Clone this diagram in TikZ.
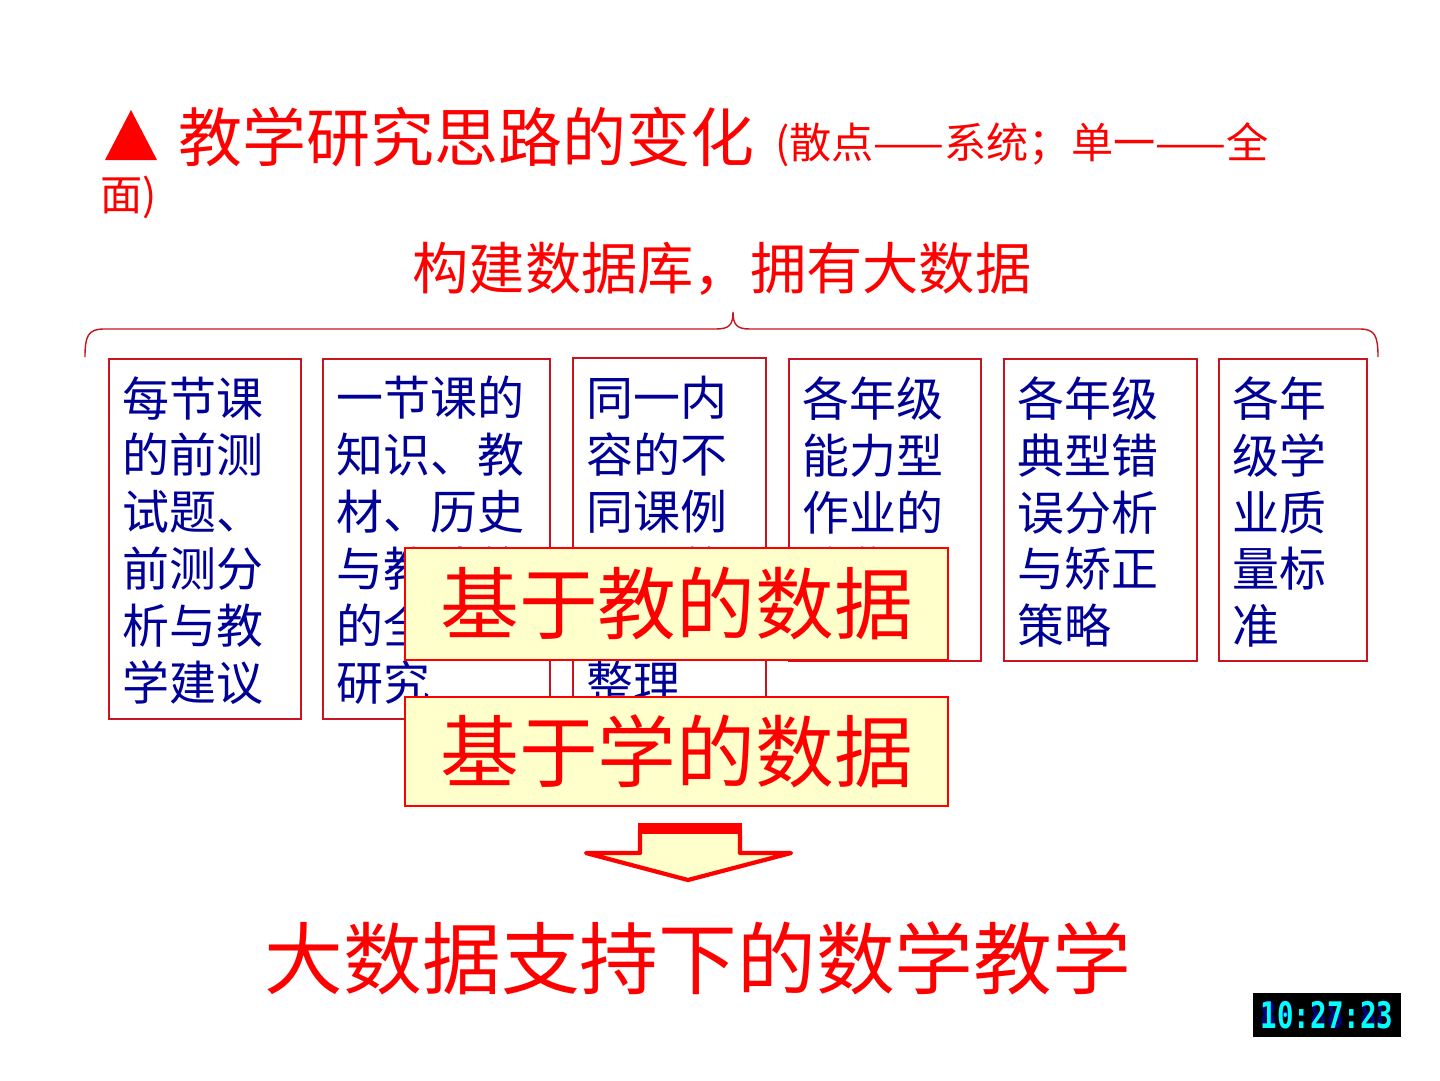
\documentclass[tikz,border=0pt]{standalone}
\usepackage{fontspec}
\setmainfont{Noto Sans CJK SC}
\newfontfamily\clockfont{DejaVu Sans Mono}

\definecolor{titlered}{RGB}{255,0,0}
\definecolor{boxred}{RGB}{200,20,30}
\definecolor{textblue}{RGB}{0,0,150}
\definecolor{paleyellow}{RGB}{255,255,204}
\definecolor{ghostblue}{RGB}{0,0,130}
\definecolor{clockcyan}{RGB}{0,255,255}

\tikzset{
  databox/.style={draw=boxred, line width=1.2pt, fill=white, anchor=north west, inner sep=0pt},
  datatext/.style={anchor=north west, inner sep=0pt, align=left, text=textblue,
    font=\fontsize{33.4}{40.5}\selectfont},
  tagbox/.style={draw=titlered, line width=1.5pt, fill=paleyellow, text=titlered,
    font=\fontsize{56}{60}\selectfont, minimum width=13.575cm, inner sep=0pt},
  redtext/.style={inner sep=0pt, text=titlered}
}

\begin{document}
\begin{tikzpicture}[x=0.025cm, y=-0.025cm]
\useasboundingbox[fill=white] (0,0) rectangle (1440,1080);

% Titre
\fill[titlered] (105,160) -- (131,110) -- (157,160) -- cycle;
\node[redtext, anchor=base west, font=\fontsize{45.5}{54}\selectfont] (title) at (178,161) {教学研究思路的变化};
\node[redtext, anchor=base west, font=\fontsize{30}{36}\selectfont] (note) at (775,158) {(散点——系统；单一——全};
\node[redtext, anchor=base west, font=\fontsize{30}{36}\selectfont] (note2) at (100,210) {面)};

\node[redtext, anchor=base, font=\fontsize{40}{48}\selectfont] (bigdata) at (722,289) {构建数据库，拥有大数据};

% Accolade
\draw[boxred, line width=1pt] (85,357) .. controls (85,336) and (88,329) .. (104,329) -- (716,329)
  .. controls (729,329) and (733,325) .. (733,312)
  .. controls (733,325) and (737,329) .. (750,329) -- (1360,329)
  .. controls (1375,329) and (1378,336) .. (1378,357);

% Cases de données
\foreach \n/\x/\y/\w/\h/\txt in {
  1/108/358/192/360/每节课\\的前测\\试题、\\前测分\\析与教\\学建议,
  2/322/358/227/360/一节课的\\知识、教\\材、历史\\与教法的\\的全面\\研究,
  3/572/357/193/361/同一内\\容的不\\同课例\\研讨的\\收集与\\整理,
  4/788/358/192/302/各年级\\能力型\\作业的\\收集,
  5/1003/358/193/302/各年级\\典型错\\误分析\\与矫正\\策略,
  6/1218/358/148/302/各年\\级学\\业质\\量标\\准
}
{
  \node[databox, minimum width=\w*0.025cm, minimum height=\h*0.025cm] (b\n) at (\x,\y) {};
  \node[datatext] (t\n) at (\x+14,376) {\txt};
}

% Bandeaux
\node[tagbox, minimum height=2.8cm] (teach) at (676.5,604) {基于教的数据};
\node[tagbox, minimum height=2.725cm] (learn) at (676.5,751.5) {基于学的数据};

% Flèche
\filldraw[draw=titlered, fill=paleyellow, line width=3pt, line join=round]
  (640,830) -- (740,830) -- (740,853) -- (791,853) -- (688,880) -- (586,853) -- (640,853) -- cycle;
\fill[titlered] (638,823) rectangle (742,834);

\node[redtext, anchor=base, font=\fontsize{56}{64}\selectfont] (goal) at (698,988) {大数据支持下的数学教学};

% Horloge
\node[fill=black, inner sep=0pt, minimum width=3.7cm, minimum height=1.1cm] (clock) at (1327,1015) {};
\node[inner sep=0pt, text=ghostblue, font=\clockfont\bfseries\fontsize{26}{30}\selectfont] (ghost) at (clock.center) {\scalebox{0.75}[1]{88:88:88}};
\node[inner sep=0pt, text=clockcyan, font=\clockfont\bfseries\fontsize{26}{30}\selectfont] (time) at (clock.center) {\scalebox{0.75}[1]{10:27:23}};

\end{tikzpicture}
\end{document}
